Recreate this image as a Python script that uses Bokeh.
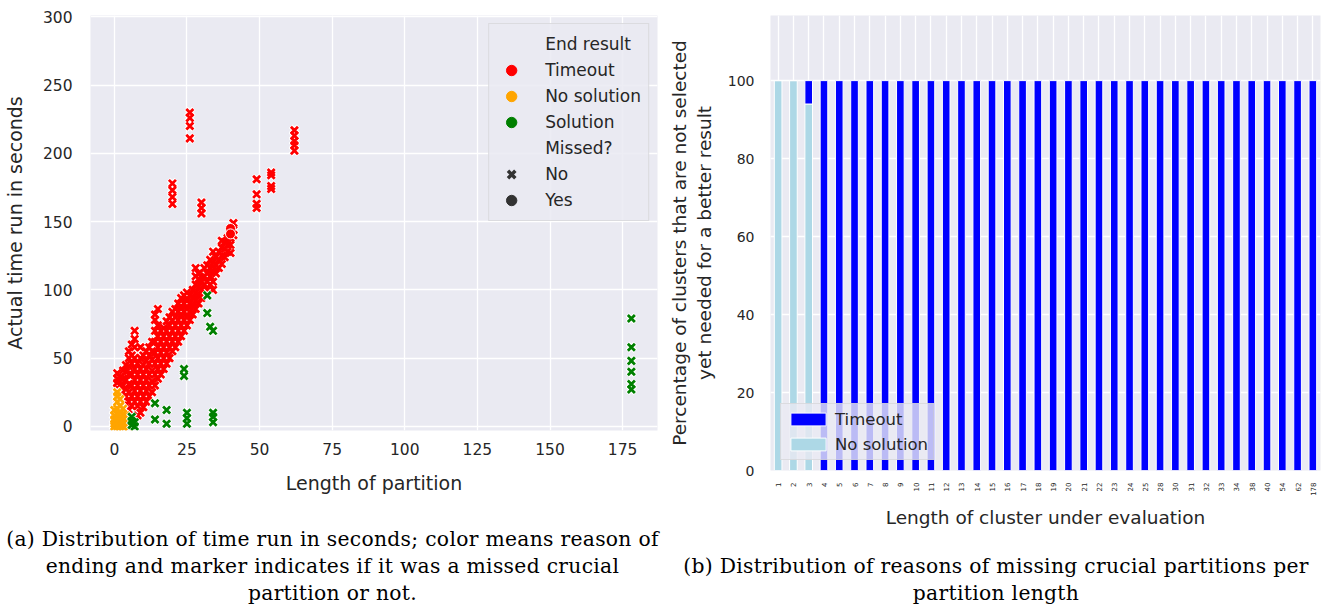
import math
from bokeh.plotting import figure
from bokeh.models import (Legend, LegendItem, Range1d, FactorRange, Div,
                          ColumnDataSource, FixedTicker)
from bokeh.layouts import row, column
from bokeh.embed import file_html
from bokeh.resources import INLINE

# ---------------- data: panel (a) ----------------
timeout_x = ([1]*8 + [2]*6 + [3]*7 + [4]*7 + [5]*8 + [6]*7 + [7]*8 + [8]*6 + [9]*7 +
             [10]*6 + [11]*6 + [12]*6 + [13]*6 + [14]*8 + [15]*7 + [16]*5 + [17]*5 +
             [18]*5 + [19]*5 + [20]*9 + [21]*5 + [22]*5 + [23]*5 + [24]*5 + [25]*5 +
             [26]*8 + [27]*4 + [28]*6 + [29]*5 + [30]*7 + [31]*4 + [32]*4 + [33]*4 +
             [34]*5 + [35]*3 + [36]*3 + [37]*4 + [38]*3 + [39]*3 + [40]*4 + [41]*3 +
             [49]*4 + [54]*4 + [62]*5)
timeout_y = [10, 14, 17, 21, 28, 32, 35, 39,
             12, 18, 22, 26, 30, 36,
             8, 14, 19, 25, 30, 35, 41,
             10, 16, 22, 28, 34, 40, 45,
             12, 18, 25, 31, 38, 44, 50, 55,
             15, 22, 30, 38, 46, 52, 60,
             18, 26, 34, 42, 50, 58, 64, 70,
             8, 15, 22, 30, 38, 46,
             10, 18, 26, 34, 42, 50, 58,
             14, 22, 30, 38, 45, 52,
             18, 26, 34, 42, 48, 55,
             22, 30, 38, 46, 52, 58,
             25, 33, 41, 49, 55, 62,
             30, 38, 46, 54, 62, 70, 78, 82,
             35, 42, 50, 58, 66, 74, 86,
             38, 46, 54, 62, 70,
             42, 50, 58, 66, 72,
             46, 54, 62, 70, 77,
             50, 58, 66, 74, 80,
             55, 62, 70, 78, 84, 163, 168, 173, 178,
             58, 66, 74, 80, 86,
             62, 70, 78, 84, 90,
             66, 74, 82, 88, 94,
             70, 78, 84, 90, 96,
             74, 80, 86, 92, 98,
             78, 84, 90, 96, 211, 220, 226, 230,
             82, 88, 94, 100,
             86, 92, 98, 104, 110, 116,
             90, 96, 102, 108, 112,
             94, 100, 106, 109, 156, 160, 164,
             98, 104, 110, 116,
             100, 106, 112, 118,
             104, 110, 116, 122,
             100, 106, 114, 120, 128,
             112, 118, 124,
             116, 122, 128,
             119, 125, 131, 136,
             124, 130, 135,
             128, 133, 138,
             127, 133, 138, 143,
             140, 144, 149,
             160, 163, 170, 181,
             174, 176, 184, 186,
             202, 206, 209, 213, 217]

nosol_x = [0]*5 + [1]*9 + [2]*6 + [3]*5 + [4]*3 + [5]*2
nosol_y = [0, 2, 5, 8, 12,
           0, 1, 3, 6, 9, 13, 18, 22, 25,
           0, 3, 6, 10, 15, 20,
           0, 2, 5, 9, 13,
           1, 4, 8,
           0, 3]

sol_x = [6, 6, 6, 7, 7, 14, 14, 18, 18, 24, 24, 25, 25, 25, 32, 32, 33,
         34, 34, 34, 34, 178, 178, 178, 178, 178, 178]
sol_y = [1, 4, 7, 0, 3, 5, 17, 2, 12, 37, 42, 2, 6, 10, 83, 96, 73,
         3, 7, 10, 70, 27, 31, 40, 48, 58, 79]

missed_x = [40, 40]
missed_y = [145, 141]

x_ticks_a = [0, 25, 50, 75, 100, 125, 150, 175]
y_ticks_a = [0, 50, 100, 150, 200, 250, 300]

# ---------------- data: panel (b) ----------------
cluster_lengths = ["1", "2", "3", "4", "5", "6", "7", "8", "9", "10", "11", "12",
                   "13", "14", "15", "16", "17", "18", "19", "20", "21", "22", "23",
                   "24", "25", "28", "30", "31", "32", "33", "34", "38", "40", "54",
                   "62", "178"]
timeout_pct = [0, 0, 6] + [100]*33
nosol_pct = [100, 100, 94] + [0]*33
y_ticks_b = [0, 20, 40, 60, 80, 100]

# ---------------- style ----------------
FONT = "DejaVu Sans"
TXT = "#262626"
BG = "#EAEAF2"
RED, ORANGE, GREEN = "#ff0000", "#ffa500", "#008000"


def style_axes(p, tick_size, label_size):
    for ax in (p.xaxis, p.yaxis):
        ax.axis_line_color = None
        ax.major_tick_line_color = None
        ax.minor_tick_line_color = None
        ax.major_label_text_font = FONT
        ax.major_label_text_color = TXT
        ax.major_label_text_font_size = tick_size
        ax.axis_label_text_font = FONT
        ax.axis_label_text_color = TXT
        ax.axis_label_text_font_size = label_size
        ax.axis_label_text_font_style = "normal"
    p.grid.grid_line_color = "white"
    p.grid.grid_line_width = 1.3


# ---------------- panel (a) ----------------
p1 = figure(width=665, height=510, x_range=Range1d(-8.2, 187), y_range=Range1d(-3, 301),
            output_backend="svg", toolbar_location=None,
            min_border_left=86, min_border_right=8, min_border_top=15, min_border_bottom=80,
            background_fill_color=BG, border_fill_color="white", outline_line_color=None,
            x_axis_label="Length of partition", y_axis_label="Actual time run in seconds")
style_axes(p1, "15.5px", "19px")
p1.xaxis.ticker = FixedTicker(ticks=x_ticks_a)
p1.yaxis.ticker = FixedTicker(ticks=y_ticks_a)
p1.xaxis.major_label_standoff = 6
p1.yaxis.major_label_standoff = 12
p1.xaxis.axis_label_standoff = 14
p1.yaxis.axis_label_standoff = 14

for xs, ys, col in ((timeout_x, timeout_y, RED), (nosol_x, nosol_y, ORANGE), (sol_x, sol_y, GREEN)):
    src = ColumnDataSource(dict(x=xs, y=ys))
    p1.scatter("x", "y", source=src, marker="x", size=11, line_color="white", line_width=5)
    p1.scatter("x", "y", source=src, marker="x", size=10, line_color=col, line_width=2.8)
p1.scatter(missed_x, missed_y, marker="circle", size=10, fill_color=RED,
           line_color="white", line_width=1)

# legend-only renderers (single point far outside the visible range)
off = dict(x=[-1000], y=[-1000])
r_title1 = p1.scatter("x", "y", source=ColumnDataSource(off), marker="circle", alpha=0)
r_title2 = p1.scatter("x", "y", source=ColumnDataSource(off), marker="circle", alpha=0)
r_t = p1.scatter("x", "y", source=ColumnDataSource(off), marker="circle", color=RED)
r_n = p1.scatter("x", "y", source=ColumnDataSource(off), marker="circle", color=ORANGE)
r_s = p1.scatter("x", "y", source=ColumnDataSource(off), marker="circle", color=GREEN)
r_no = p1.scatter("x", "y", source=ColumnDataSource(off), marker="x", line_color="#333333",
                  line_width=3.5)
r_yes = p1.scatter("x", "y", source=ColumnDataSource(off), marker="circle", color="#333333")

leg1 = Legend(items=[LegendItem(label="End result", renderers=[r_title1]),
                     LegendItem(label="Timeout", renderers=[r_t]),
                     LegendItem(label="No solution", renderers=[r_n]),
                     LegendItem(label="Solution", renderers=[r_s]),
                     LegendItem(label="Missed?", renderers=[r_title2]),
                     LegendItem(label="No", renderers=[r_no]),
                     LegendItem(label="Yes", renderers=[r_yes])],
              location="top_right", margin=8, padding=7, spacing=0,
              glyph_width=30, glyph_height=26, label_height=26, label_standoff=19,
              label_text_font=FONT, label_text_font_size="17px", label_text_color=TXT,
              background_fill_color=BG, background_fill_alpha=0.85,
              border_line_color="#cccccc", border_line_width=1)
p1.add_layout(leg1)

# ---------------- panel (b) ----------------
src_b = ColumnDataSource(dict(length=cluster_lengths, nosol=nosol_pct, timeout=timeout_pct))
p2 = figure(width=662, height=530, x_range=FactorRange(factors=cluster_lengths),
            y_range=Range1d(0, 116.7),
            output_backend="svg", toolbar_location=None,
            min_border_left=103, min_border_right=7, min_border_top=15, min_border_bottom=60,
            background_fill_color=BG, border_fill_color="white", outline_line_color=None,
            x_axis_label="Length of cluster under evaluation",
            y_axis_label="Percentage of clusters that are not selected\nyet needed for a better result")
style_axes(p2, "14px", "18.5px")
p2.xaxis.major_label_text_font_size = "7px"
p2.xaxis.major_label_orientation = math.pi / 2
p2.yaxis.ticker = FixedTicker(ticks=y_ticks_b)
p2.xaxis.major_label_standoff = 6
p2.yaxis.major_label_standoff = 10
p2.xaxis.axis_label_standoff = 8
p2.yaxis.axis_label_standoff = 10

rs = p2.vbar_stack(["nosol", "timeout"], x="length", width=0.5, source=src_b,
                   fill_color=["lightblue", "blue"], line_color="white", line_width=1)
leg2 = Legend(items=[LegendItem(label="Timeout", renderers=[rs[1]]),
                     LegendItem(label="No solution", renderers=[rs[0]])],
              location="bottom_left", margin=10, padding=5, spacing=5,
              glyph_width=44, glyph_height=16, label_height=20, label_standoff=5,
              label_text_font=FONT, label_text_font_size="16.5px", label_text_color=TXT,
              background_fill_color=BG, background_fill_alpha=0.8,
              border_line_color="#cccccc", border_line_width=1)
p2.add_layout(leg2)

# ---------------- captions ----------------
cap_style = {"font-family": "DejaVu Serif", "font-size": "20.3px", "line-height": "27px",
             "letter-spacing": "0.3px", "text-align": "center", "white-space": "nowrap",
             "color": "#000000", "width": "100%"}
cap1 = Div(text="(a) Distribution of time run in seconds; color means reason of<br>"
                "ending and marker indicates if it was a missed crucial<br>"
                "partition or not.",
           width=665, height=102, margin=(0, 0, 0, 0),
           styles=dict(cap_style, **{"padding-top": "16px"}))
cap2 = Div(text="(b) Distribution of reasons of missing crucial partitions per<br>"
                "partition length",
           width=662, height=82, margin=(0, 0, 0, 0),
           styles=dict(cap_style, **{"padding-top": "23px"}))

layout = row(column(p1, cap1, spacing=0), column(p2, cap2, spacing=0), spacing=0)
open("out.html", "w").write(file_html(layout, INLINE))
